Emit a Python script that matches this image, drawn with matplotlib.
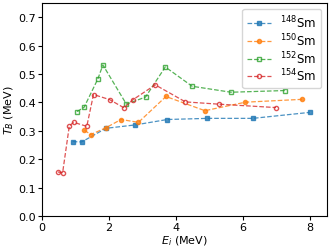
import numpy as np
import matplotlib
matplotlib.use('Agg')
import matplotlib.pyplot as plt

# 148Sm
e148 = [0.92, 1.19, 1.91, 2.79, 3.74, 4.93, 6.29, 7.98]
t148 = [0.262, 0.261, 0.309, 0.321, 0.340, 0.344, 0.344, 0.365]
# 150Sm
e150 = [1.27, 1.46, 1.91, 2.36, 2.88, 3.70, 4.86, 6.07, 7.76]
t150 = [0.302, 0.287, 0.311, 0.340, 0.330, 0.421, 0.371, 0.401, 0.411]
# 152Sm
e152 = [1.05, 1.26, 1.67, 1.82, 2.52, 3.09, 3.68, 4.48, 5.64, 7.25]
t152 = [0.368, 0.383, 0.483, 0.532, 0.394, 0.419, 0.525, 0.457, 0.436, 0.442]
# 154Sm
e154 = [0.48, 0.62, 0.82, 0.95, 1.34, 1.54, 2.02, 2.45, 2.72, 3.38, 4.28, 5.27, 6.98]
t154 = [0.155, 0.153, 0.318, 0.330, 0.316, 0.428, 0.410, 0.381, 0.410, 0.462, 0.402, 0.394, 0.382]

labels = [r'$^{148}$Sm', r'$^{150}$Sm', r'$^{152}$Sm', r'$^{154}$Sm']

plt.rcParams['font.size'] = 8

fig = plt.figure(figsize=(3.32, 2.53), dpi=100)
ax = fig.add_axes([0.126, 0.142, 0.859, 0.842])

ax.plot(e148, t148, '--s', color='C0', ms=3, lw=0.9, alpha=0.8, label=labels[0])
ax.plot(e150, t150, '--o', color='C1', ms=3, lw=0.9, alpha=0.8, label=labels[1])
ax.plot(e152, t152, '--s', color='C2', ms=3, lw=0.9, alpha=0.8, mfc='none', label=labels[2])
ax.plot(e154, t154, '--o', color='C3', ms=3, lw=0.9, alpha=0.8, mfc='none', label=labels[3])

ax.set_xlim(0, 8.5)
ax.set_ylim(0, 0.75)
ax.set_xlabel(r'$E_i$ (MeV)', labelpad=1)
ax.set_ylabel(r'$T_B$ (MeV)', labelpad=1)
ax.tick_params(length=3, pad=1.5)
ax.legend(loc='upper right', fontsize=8.5, handlelength=2.0, borderpad=0.4,
          labelspacing=0.1, handletextpad=0.8, borderaxespad=0.5)

fig.savefig('out.png', dpi=100)
